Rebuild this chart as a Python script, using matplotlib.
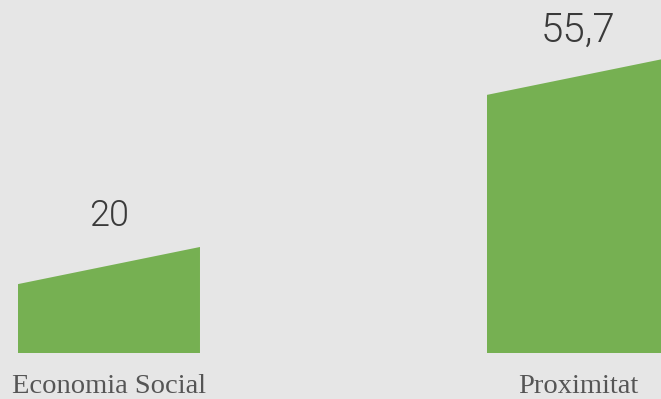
import matplotlib
matplotlib.use('Agg')
import matplotlib.pyplot as plt
from matplotlib.patches import Polygon

# data
categories = ['Economia Social', 'Proximitat']
values = [20, 55.7]
value_labels = ['20', '55,7']

# style
BG = '#e6e6e6'
GREEN = '#76b052'
BAR_WIDTH = 0.388
SLANT = 7.0  # left edge sits this much lower than the right edge

fig = plt.figure(figsize=(6.61, 3.99), dpi=100, facecolor=BG)
ax = fig.add_axes([0, 0, 1, 1])
ax.set_facecolor(BG)

for i, (cat, val, lab) in enumerate(zip(categories, values, value_labels)):
    x0 = i - BAR_WIDTH / 2
    x1 = i + BAR_WIDTH / 2
    poly = Polygon([(x0, 0), (x1, 0), (x1, val), (x0, val - SLANT)],
                   closed=True, facecolor=GREEN, edgecolor='none')
    ax.add_patch(poly)
    ax.annotate(lab, (i, val - SLANT / 2), xytext=(0, [36, 33][i]), textcoords='offset points',
                ha='center', va='center', fontsize=[26, 29][i],
                family='Roboto', fontweight=300, color='#3a3a3a')
    ax.annotate(cat, (i, 0), xytext=(0, -29), textcoords='offset points',
                ha='center', va='baseline', fontsize=20.5,
                family='Liberation Serif', color='#555555')

ax.set_xlim(-0.2324, 1.177)
ax.set_ylim(-8.68, 66.6)
ax.axis('off')

fig.savefig('out.png', dpi=100, facecolor=BG)
